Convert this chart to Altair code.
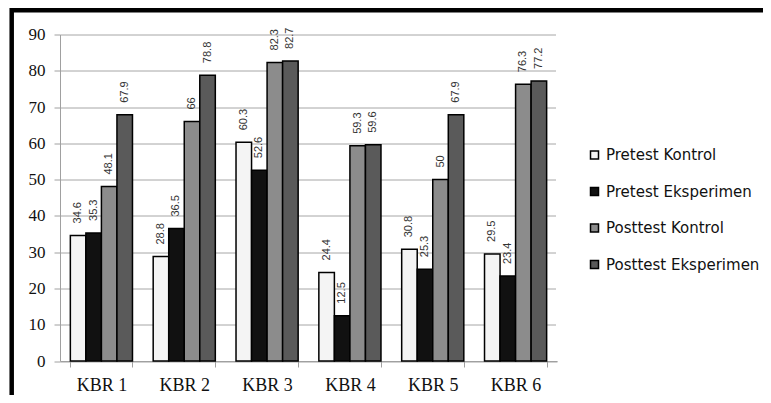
import altair as alt
import pandas as pd

categories = ["KBR 1", "KBR 2", "KBR 3", "KBR 4", "KBR 5", "KBR 6"]
series_names = ["Pretest Kontrol", "Pretest Eksperimen", "Posttest Kontrol", "Posttest Eksperimen"]
pretest_kontrol = [34.6, 28.8, 60.3, 24.4, 30.8, 29.5]
pretest_eksperimen = [35.3, 36.5, 52.6, 12.5, 25.3, 23.4]
posttest_kontrol = [48.1, 66, 82.3, 59.3, 50, 76.3]
posttest_eksperimen = [67.9, 78.8, 82.7, 59.6, 67.9, 77.2]
y_ticks = [0, 10, 20, 30, 40, 50, 60, 70, 80, 90]

fills = ["#f4f4f4", "#111111", "#8c8c8c", "#5a5a5a"]

rows = []
for s, vals in zip(series_names, [pretest_kontrol, pretest_eksperimen, posttest_kontrol, posttest_eksperimen]):
    for c, v in zip(categories, vals):
        rows.append({"cat": c, "series": s, "value": v})
df = pd.DataFrame(rows)

W, H = 497, 326.5

x_enc = alt.X("cat:N", sort=categories,
              scale=alt.Scale(paddingInner=0.25, paddingOuter=0.125),
              axis=alt.Axis(title=None, labelAngle=0, tickBand="extent", tickSize=6,
                            labelPadding=9, labelFont="Liberation Serif", labelFontSize=18,
                            labelColor="#111", domainColor="#a0a0a0", tickColor="#a0a0a0",
                            grid=False))
xoff = alt.XOffset("series:N", sort=series_names, scale=alt.Scale(paddingInner=0, paddingOuter=0))
y_enc = alt.Y("value:Q", scale=alt.Scale(domain=[0, 90], nice=False),
              axis=alt.Axis(title=None, values=y_ticks, tickSize=6, labelPadding=9,
                            labelOverlap=False,
                            labelFont="Liberation Serif", labelFontSize=17, labelColor="#111",
                            domainColor="#a0a0a0", tickColor="#a0a0a0",
                            grid=True, gridColor="#a6a6a6"))

base = alt.Chart(df)

bars = base.mark_bar(stroke="black", strokeWidth=1.5).encode(
    x=x_enc, xOffset=xoff, y=y_enc,
    fill=alt.Fill("series:N", sort=series_names,
                  scale=alt.Scale(domain=series_names, range=fills),
                  legend=alt.Legend(title=None, orient="none", legendX=527, legendY=113,
                                    symbolType="square", symbolSize=64,
                                    symbolStrokeColor="black", symbolStrokeWidth=1.5,
                                    labelFont="DejaVu Sans", labelFontSize=15, labelColor="#111",
                                    labelOffset=4, rowPadding=20.5, padding=0)),
)

labels = base.mark_text(angle=270, align="left", baseline="middle", dx=12,
                        font="Liberation Sans", fontSize=11, color="#333").encode(
    x=x_enc, xOffset=xoff, y=y_enc,
    text=alt.Text("value:Q", format="~g"),
)

one = pd.DataFrame({"a": [0]})
top_border = alt.Chart(one).mark_rule(color="black", strokeWidth=4.5).encode(
    x=alt.value(-49), x2=alt.value(720), y=alt.value(-24.2))
left_border = alt.Chart(one).mark_rule(color="black", strokeWidth=4.5).encode(
    x=alt.value(-48.3), y=alt.value(-26.5), y2=alt.value(400))
right_cover = alt.Chart(one).mark_rule(color="white", strokeWidth=3).encode(
    x=alt.value(W + 0.5), y=alt.value(-1), y2=alt.value(H - 0.6))

chart = alt.layer(bars, labels, top_border, left_border, right_cover).properties(
    width=W, height=H,
    background="white",
    autosize=alt.AutoSizeParams(type="none"),
    padding={"left": 52, "top": 26.5, "right": 206, "bottom": 34},
).configure_view(strokeWidth=0, stroke="transparent")

chart.save("out.html", embed_options={"renderer": "svg", "actions": False})
